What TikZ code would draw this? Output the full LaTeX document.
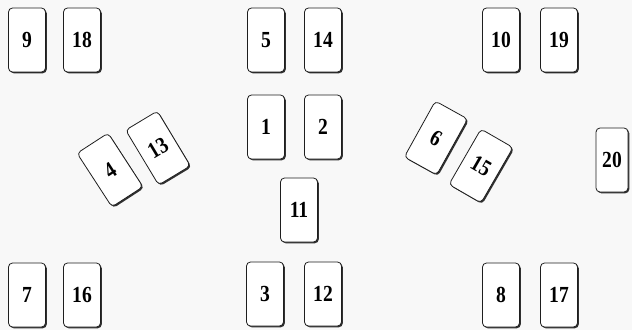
\documentclass[tikz,border=0pt]{standalone}
\usepackage{fontspec}
\setmainfont{Liberation Serif}
\usetikzlibrary{shadows}
\definecolor{paper}{HTML}{F8F8F8}
\definecolor{cardedge}{HTML}{1E1E1E}
\newcommand{\cardno}[1]{\scalebox{0.85}[1]{#1}}

\begin{document}
\begin{tikzpicture}[x=1pt, y=1pt,
  card/.style={draw=cardedge, line width=0.8pt, fill=white, rounded corners=4pt,
    minimum width=37pt, minimum height=64pt, inner sep=0pt,
    font=\fontsize{23}{23}\selectfont\bfseries,
    drop shadow={shadow xshift=1.3pt, shadow yshift=-1.3pt, fill=black, opacity=0.8}}]
  \fill[paper] (0,0) rectangle (632,330);
  \useasboundingbox (0,0) rectangle (632,330);

  % top row
  \node[card] (c9)  at (27,290)  {\cardno{9}};
  \node[card] (c18) at (82,290)  {\cardno{18}};
  \node[card] (c5)  at (266,290) {\cardno{5}};
  \node[card] (c14) at (323,290) {\cardno{14}};
  \node[card] (c10) at (501,290) {\cardno{10}};
  \node[card] (c19) at (559,290) {\cardno{19}};

  % middle
  \node[card] (c1) at (266,203) {\cardno{1}};
  \node[card] (c2) at (323,203) {\cardno{2}};
  \node[card, rotate=33] (c4)  at (110,160) {\cardno{4}};
  \node[card, rotate=31] (c13) at (158,182) {\cardno{13}};
  \node[card, rotate=-29] (c6)  at (436,192) {\cardno{6}};
  \node[card, rotate=-30] (c15) at (481,164) {\cardno{15}};
  \node[card, minimum width=32pt] (c20) at (612,170) {\cardno{20}};
  \node[card] (c11) at (299,120) {\cardno{11}};

  % bottom row
  \node[card] (c7)  at (27,35)  {\cardno{7}};
  \node[card] (c16) at (82,35)  {\cardno{16}};
  \node[card] (c3)  at (265,36) {\cardno{3}};
  \node[card] (c12) at (323,36) {\cardno{12}};
  \node[card] (c8)  at (501,35) {\cardno{8}};
  \node[card] (c17) at (559,35) {\cardno{17}};
\end{tikzpicture}
\end{document}
